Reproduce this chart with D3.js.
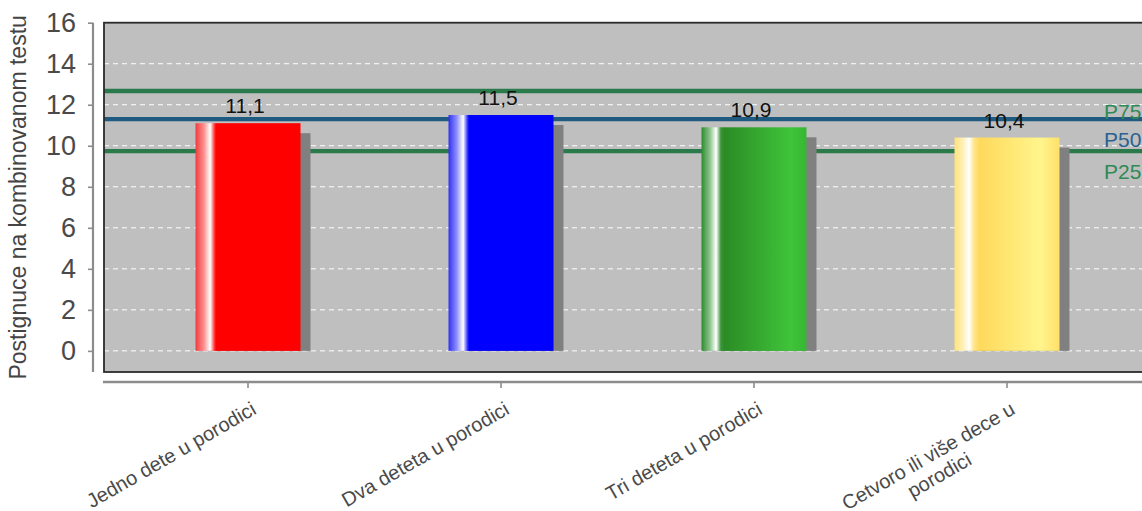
<!DOCTYPE html>
<html>
<head>
<meta charset="utf-8">
<script src="https://cdn.jsdelivr.net/npm/d3@7"></script>
<style>
  html, body { margin: 0; padding: 0; background: #fff; }
  svg { display: block; font-family: "Liberation Sans", Arial, sans-serif; }
</style>
</head>
<body>
<svg id="chart" width="1142" height="511"></svg>
<script>
// ---- data ----
const categories = ["Jedno dete u porodici", "Dva deteta u porodici", "Tri deteta u porodici", "Cetvoro ili više dece u porodici"];
const categoryLabelLines = [["Jedno dete u porodici"], ["Dva deteta u porodici"], ["Tri deteta u porodici"], ["Cetvoro ili više dece u", "porodici"]];
const values = [11.1, 11.5, 10.9, 10.4];
const percentileNames = ["P75", "P50", "P25"];
const percentileValues = [12.67, 11.30, 9.74];
const yTicks = [0, 2, 4, 6, 8, 10, 12, 14, 16];
const yTitle = "Postignuce na kombinovanom testu";

// ---- styles ----
const barGradients = [
  [[0, "#f03c3c"], [0.08, "#ff9090"], [0.14, "#ffffff"], [0.185, "#ff2020"], [0.2, "#ff0000"], [1, "#ff0000"]],
  [[0, "#3030f0"], [0.08, "#9090ff"], [0.14, "#ffffff"], [0.185, "#2020ff"], [0.2, "#0000ff"], [1, "#0000ff"]],
  [[0, "#2e8b2e"], [0.08, "#8cc48c"], [0.14, "#ffffff"], [0.185, "#3a943a"], [0.22, "#2b8c25"], [0.85, "#3fc43a"], [1, "#38b634"]],
  [[0, "#ffe27a"], [0.08, "#fff0b8"], [0.14, "#ffffff"], [0.185, "#ffe68a"], [0.24, "#ffd95c"], [0.82, "#fff58c"], [1, "#ffe06a"]]
];
const percentileLineColors = ["#2b7a4b", "#1f5a80", "#2b7a4b"];
const percentileTextColors = ["#2f8a55", "#2a6292", "#2f8a55"];

const svg = d3.select("#chart");
const W = 1142, H = 511;
const panel = { left: 104, right: 1160, top: 22.7, bottom: 372 };

const x = d3.scaleBand()
  .domain(categories)
  .range([121.5, 1133.5])
  .paddingInner(0.585)
  .paddingOuter(0.2925);
const y = d3.scaleLinear().domain([-1.03, 16]).range([panel.bottom, panel.top]);

// gradients
const defs = svg.append("defs");
barGradients.forEach((stops, i) => {
  const g = defs.append("linearGradient").attr("id", "grad" + i)
    .attr("x1", "0%").attr("x2", "100%").attr("y1", "0%").attr("y2", "0%");
  stops.forEach(s => g.append("stop").attr("offset", s[0]).attr("stop-color", s[1]));
});
defs.append("clipPath").attr("id", "panelClip").append("rect")
  .attr("x", panel.left).attr("y", panel.top)
  .attr("width", panel.right - panel.left).attr("height", panel.bottom - panel.top);

// panel background
svg.append("rect")
  .attr("x", panel.left).attr("y", panel.top)
  .attr("width", panel.right - panel.left).attr("height", panel.bottom - panel.top)
  .attr("fill", "#bfbfbf");

const inner = svg.append("g").attr("clip-path", "url(#panelClip)");

// gridlines
inner.selectAll("line.grid").data(yTicks.filter(t => t < 16)).join("line")
  .attr("class", "grid")
  .attr("x1", panel.left).attr("x2", panel.right)
  .attr("y1", d => y(d)).attr("y2", d => y(d))
  .attr("stroke", "#ffffff").attr("stroke-width", 1)
  .attr("stroke-dasharray", "5,4");

// percentile lines
inner.selectAll("line.pct").data(percentileValues).join("line")
  .attr("class", "pct")
  .attr("x1", panel.left).attr("x2", panel.right)
  .attr("y1", d => y(d)).attr("y2", d => y(d))
  .attr("stroke", (d, i) => percentileLineColors[i]).attr("stroke-width", 4.3);

// shadows
const shadowOffset = 10;
inner.selectAll("rect.shadow").data(values).join("rect")
  .attr("class", "shadow")
  .attr("x", (d, i) => x(categories[i]) + shadowOffset)
  .attr("y", d => y(d) + shadowOffset)
  .attr("width", x.bandwidth())
  .attr("height", d => y(0) - y(d) - shadowOffset)
  .attr("fill", "#808080");

// bars
inner.selectAll("rect.bar").data(values).join("rect")
  .attr("class", "bar")
  .attr("x", (d, i) => x(categories[i]))
  .attr("y", d => y(d))
  .attr("width", x.bandwidth())
  .attr("height", d => y(0) - y(d))
  .attr("fill", (d, i) => `url(#grad${i})`);

// value labels
inner.selectAll("text.val").data(values).join("text")
  .attr("class", "val")
  .attr("x", (d, i) => x(categories[i]) + x.bandwidth() / 2 - 3)
  .attr("y", d => y(d) - 10)
  .attr("text-anchor", "middle")
  .attr("font-size", 21)
  .attr("fill", "#111")
  .text(d => d3.format(".1f")(d).replace(".", ","));

// percentile labels
inner.selectAll("text.pctlab").data(percentileValues).join("text")
  .attr("class", "pctlab")
  .attr("x", 1104)
  .attr("y", d => y(d) + 28)
  .attr("font-size", 21)
  .attr("fill", (d, i) => percentileTextColors[i])
  .text((d, i) => percentileNames[i]);

// panel border
svg.append("rect")
  .attr("x", panel.left).attr("y", panel.top)
  .attr("width", panel.right - panel.left).attr("height", panel.bottom - panel.top)
  .attr("fill", "none").attr("stroke", "#2b2b2b").attr("stroke-width", 1.8);

// y axis
const yAxisX = 93;
const yAxis = svg.append("g").attr("transform", `translate(${yAxisX},0)`)
  .call(d3.axisLeft(y).tickValues(yTicks).tickSize(5).tickPadding(12).tickFormat(d3.format("d")));
yAxis.select(".domain").attr("d", `M0,${panel.top}V${panel.bottom}`).attr("stroke", "#8c8c8c").attr("stroke-width", 2.2);
yAxis.selectAll(".tick line").attr("stroke", "#8c8c8c").attr("stroke-width", 1.6);
yAxis.selectAll(".tick text").attr("font-size", 27).attr("fill", "#4a4a4a")
  .attr("font-family", "Liberation Sans, Arial, sans-serif");

// x axis
const xAxisY = 382;
const xAxis = svg.append("g").attr("transform", `translate(0,${xAxisY})`)
  .call(d3.axisBottom(x).tickSize(6).tickFormat(""));
xAxis.select(".domain").attr("d", `M${panel.left - 1},0H${W + 10}`).attr("stroke", "#8c8c8c").attr("stroke-width", 2.7);
xAxis.selectAll(".tick line").attr("stroke", "#8c8c8c").attr("stroke-width", 1.6);

// x labels
const xl = svg.append("g");
categories.forEach((c, i) => {
  const cx = x(c) + x.bandwidth() / 2;
  const g = xl.append("g").attr("transform", `translate(${cx + 2},400) rotate(-30)`);
  const lines = categoryLabelLines[i];
  const texts = lines.map((ln, j) => g.append("text")
    .attr("y", 15 + j * 22)
    .attr("font-size", 20)
    .attr("fill", "#4a4a4a")
    .attr("text-anchor", "middle")
    .text(ln));
  const maxW = d3.max(texts, t => t.node().getComputedTextLength());
  texts.forEach(t => t.attr("x", -maxW / 2));
});

// y title
svg.append("text")
  .attr("transform", `translate(26,${(panel.top + panel.bottom) / 2}) rotate(-90)`)
  .attr("text-anchor", "middle")
  .attr("font-size", 23)
  .attr("fill", "#444")
  .text(yTitle);
</script>
</body>
</html>
